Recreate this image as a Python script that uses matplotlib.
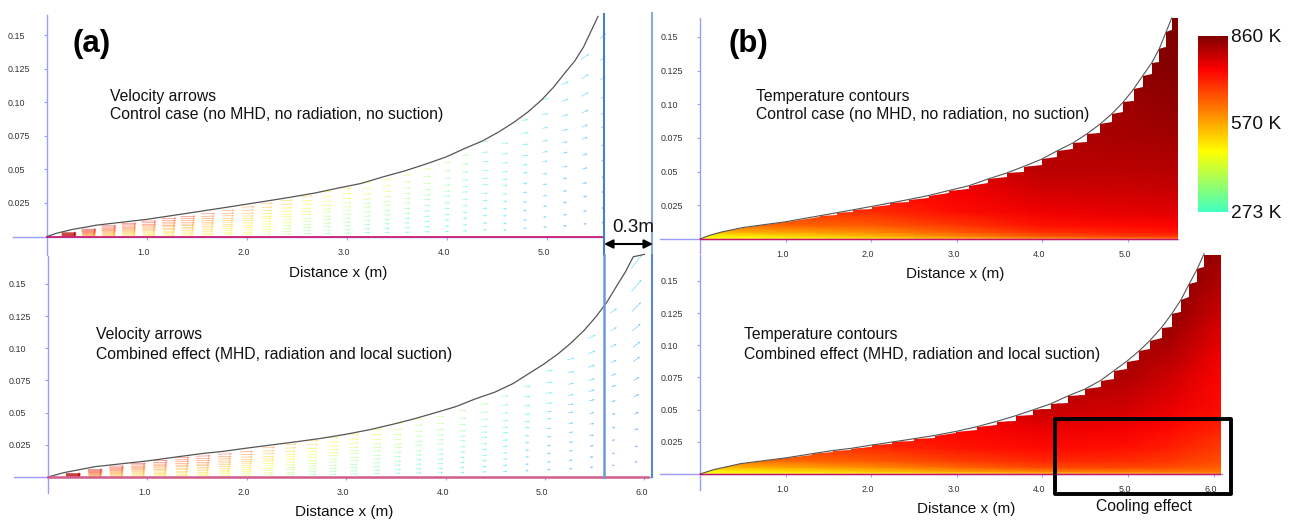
import numpy as np
import matplotlib
matplotlib.use('Agg')
import matplotlib.pyplot as plt
from matplotlib.colors import LinearSegmentedColormap
from matplotlib.patches import Polygon, Rectangle
from matplotlib.cm import ScalarMappable
from matplotlib.colors import Normalize
from matplotlib.transforms import ScaledTranslation

plt.rcParams['font.family'] = ['Liberation Sans', 'DejaVu Sans']

W, H = 1292, 521

# wall curves, x (m) and height (m)
control_x = [0, .1, .25, .5, 1, 1.402, 1.597, 1.791, 2.005, 2.22, 2.445, 2.679, 2.912, 3.139, 3.364, 3.583,
             3.789, 3.992, 4.174, 4.354, 4.517, 4.673, 4.813, 4.945, 5.066, 5.175, 5.276, 5.366, 5.444, 5.51]
control_y = [0, .0025, .0052, .0085, .0128, .0173, .0195, .0217, .0242, .0267, .0294, .0324, .0361, .0395, .0445,
             .049, .054, .0593, .0655, .0712, .0779, .0853, .093, .1017, .1113, .1215, .1306, .1413, .1536, .164]
combined_x = [0, .155, .47, 1, 1.304, 1.557, 1.76, 2.005, 2.238, 2.499, 2.744, 2.991, 3.232, 3.466, 3.688, 3.894,
              4.1, 4.303, 4.498, 4.681, 4.84, 4.984, 5.133, 5.257, 5.393, 5.51, 5.619, 5.716, 5.81, 5.888, 6.0]
combined_y = [0, .0033, .008, .0125, .0157, .0183, .0199, .0225, .0248, .0274, .03, .0331, .0367, .0409, .0453, .0499,
              .0546, .0608, .066, .0727, .0805, .0875, .0958, .1038, .1139, .1243, .1354, .1478, .1595, .1711, .173]

y_ticks = [.025, .05, .075, .10, .125, .15]
y_tick_labels = ['0.025', '0.05', '0.075', '0.10', '0.125', '0.15']

# mesh rows as a share of the local height
row_fracs = [1, .889, .79, .695, .615, .547, .456, .379, .297, .222, .142, .07]

# arrows, control case
ctl_col_x = [.22, .42, .62, .82, 1.02, 1.22, 1.41, 1.61, 1.81, 2.01, 2.2, 2.4, 2.6, 2.8, 3.0, 3.2,
             3.4, 3.6, 3.8, 4.0, 4.18, 4.38, 4.58, 4.78, 4.98, 5.18, 5.38, 5.56]
ctl_col_top = [.003, .0055, .008, .0098, .0115, .0135, .015, .017, .0195, .022, .0245, .027, .03, .0333,
               .0359, .0401, .0425, .0458, .0503, .055, .0607, .0706, .0694, .0868, .1025, .1142, .134, .1494]
ctl_lvl_top = [1.0, .98, .96, .95, .95, .94, .93, .9, .87, .83, .79, .76, .73, .71, .69, .67,
               .65, .62, .6, .56, .52, .46, .42, .36, .32, .28, .25, .22]
ctl_lvl_low = [.98, .8, .76, .72, .7, .69, .68, .67, .65, .62, .58, .54, .48, .45, .43, .41,
               .39, .37, .35, .33, .31, .29, .26, .22, .19, .14, .1, .06]
ctl_len_top = [15, 15, 15, 15, 15, 15, 15, 14, 13, 13, 12, 12, 11, 10, 10, 9,
               9, 8, 8, 8, 7, 7, 7, 7, 7, 7, 8, 6]
ctl_len_low = [14, 13, 13, 13, 12, 11, 11, 10, 9, 9, 8, 8, 7, 7, 6, 6,
               5, 5, 5, 4, 4, 4, 3, 3, 3, 3, 3, 2]
ctl_slope = [0, 0, 0, 0, 0, .02, .02, .03, .03, .03, .04, .04, .05, .05, .05, .06,
             .06, .07, .07, .08, .08, .1, .12, .16, .22, .4, .7, .9]

# arrows, combined effect
cmb_col_x = [.255, .475, .69, .91, 1.13, 1.35, 1.56, 1.78, 2.0, 2.22, 2.44, 2.66, 2.87, 3.08, 3.31,
             3.52, 3.73, 3.95, 4.17, 4.39, 4.6, 4.82, 5.04, 5.26, 5.47, 5.69, 5.92]
cmb_col_top = [.0028, .006, .0085, .0106, .0127, .015, .0163, .0179, .0197, .0228, .0254, .0282, .0306,
               .0332, .037, .0417, .0451, .0469, .0515, .0567, .0629, .0702, .0826, .0917, .109, .1292, .1673]
cmb_lvl_top = [1.0, .98, .96, .95, .95, .94, .93, .9, .87, .83, .79, .76, .73, .7, .68,
               .65, .62, .58, .54, .5, .44, .38, .33, .3, .27, .25, .22]
cmb_lvl_low = [.98, .8, .76, .72, .7, .69, .68, .66, .62, .58, .52, .48, .45, .42, .4,
               .38, .36, .34, .32, .29, .26, .22, .18, .13, .09, .05, .03]
cmb_len_top = [15, 15, 15, 15, 15, 15, 15, 14, 13, 13, 12, 12, 11, 10, 10,
               9, 8, 8, 8, 8, 7, 7, 7, 7, 8, 7, 11]
cmb_len_low = [14, 13, 13, 13, 12, 11, 11, 10, 9, 9, 8, 8, 7, 7, 6,
               6, 5, 5, 4, 4, 4, 3, 3, 3, 3, 2, 2]
cmb_slope = [0, 0, 0, 0, 0, .02, .02, .03, .03, .03, .04, .04, .05, .05, .05,
             .06, .06, .07, .07, .08, .1, .12, .16, .25, .45, .7, 1.3]

# temperature tables (K), rows follow t_y, columns follow the x list
t_y = [0, .002, .005, .01, .02, .035, .05, .075, .1, .125, .15, .175]
ctl_t_x = [0, .5, 1, 2, 3, 4, 5, 5.6]
ctl_temp = [[470, 475, 480, 500, 540, 580, 600, 610],
            [480, 490, 510, 550, 600, 650, 680, 690],
            [540, 560, 570, 600, 650, 695, 715, 725],
            [620, 630, 640, 650, 690, 730, 740, 745],
            [690, 690, 690, 700, 735, 760, 770, 775],
            [720, 725, 730, 740, 755, 785, 790, 795],
            [740, 745, 750, 760, 775, 805, 805, 810],
            [770, 775, 780, 790, 800, 815, 825, 830],
            [790, 795, 800, 805, 815, 825, 832, 845],
            [810, 815, 820, 825, 830, 840, 845, 855],
            [825, 830, 835, 840, 845, 850, 855, 860],
            [840, 845, 850, 855, 860, 860, 860, 860]]
cmb_t_x = [0, .5, 1, 2, 3, 4, 5, 5.5, 6.1]
cmb_temp = [[470, 475, 480, 490, 510, 540, 560, 570, 590],
            [480, 490, 505, 540, 580, 610, 620, 625, 625],
            [540, 555, 565, 595, 635, 670, 670, 665, 645],
            [620, 625, 635, 650, 680, 705, 700, 690, 665],
            [680, 685, 690, 700, 725, 740, 730, 715, 685],
            [715, 720, 725, 735, 745, 765, 755, 740, 710],
            [735, 740, 745, 755, 770, 800, 785, 765, 735],
            [760, 765, 770, 780, 795, 815, 815, 790, 745],
            [780, 785, 790, 800, 810, 825, 830, 820, 765],
            [800, 805, 810, 815, 820, 835, 840, 845, 790],
            [820, 825, 830, 835, 840, 850, 850, 855, 815],
            [840, 845, 850, 855, 860, 860, 860, 860, 835]]

# upper edge of the filled cells (stair steps under the curve)
ctl_edge_x = [0, .1, .25, .5, 1, 1.402, 1.402, 1.597, 1.597, 1.791, 1.791, 2.005, 2.005, 2.22, 2.22,
              2.445, 2.445, 2.679, 2.679, 2.912, 2.912, 3.139, 3.139, 3.364, 3.364, 3.583, 3.583, 3.789, 3.789,
              3.992, 3.992, 4.174, 4.174, 4.354, 4.354, 4.517, 4.517, 4.673, 4.673, 4.813, 4.813, 4.945, 4.945,
              5.066, 5.066, 5.175, 5.175, 5.276, 5.276, 5.366, 5.366, 5.444, 5.444, 5.51, 5.51, 5.584]
ctl_edge_y = [0, .0025, .0052, .0085, .0128, .0161, .0171, .0181, .0193, .0203, .0215, .0225, .024, .025, .0265,
              .0277, .0292, .0304, .0322, .0339, .0359, .0369, .0393, .0418, .0443, .0458, .0488, .05, .0537,
              .0549, .0591, .0606, .0653, .0666, .071, .0723, .0777, .0789, .0851, .0866, .0928, .0945, .1015,
              .1027, .1111, .1126, .1213, .1225, .1304, .1317, .1411, .1428, .1534, .1552, .1638, .1638]
cmb_edge_x = [0, .155, .47, 1, 1.304, 1.304, 1.557, 1.557, 1.76, 1.76, 2.005, 2.005, 2.238, 2.238, 2.499, 2.499,
              2.744, 2.744, 2.991, 2.991, 3.232, 3.232, 3.466, 3.466, 3.688, 3.688, 3.894, 3.894, 4.1, 4.1,
              4.303, 4.303, 4.498, 4.498, 4.681, 4.681, 4.84, 4.84, 4.984, 4.984, 5.133, 5.133, 5.257, 5.257,
              5.393, 5.393, 5.51, 5.51, 5.619, 5.619, 5.716, 5.716, 5.81, 5.81, 5.888, 5.888, 6.083]
cmb_edge_y = [0, .0033, .008, .0122, .0145, .0155, .0171, .0181, .0186, .0197, .021, .0223, .0231, .0246, .0256, .0272,
              .028, .0298, .0316, .0329, .0342, .0365, .0378, .0407, .0414, .0451, .0458, .0497, .0505, .0544,
              .0554, .0606, .0614, .0658, .0673, .0725, .0738, .0803, .0816, .0873, .0886, .0956, .0969, .1036,
              .1054, .1137, .1145, .1241, .1261, .1352, .1378, .1476, .1494, .1593, .1606, .1709, .1709]

temp_cmap = LinearSegmentedColormap.from_list(
    'temp', [(0, '#40ffc0'), (.343, '#ffff00'), (.81, '#ff0000'), (1, '#7f0000')])
speed_cmap = LinearSegmentedColormap.from_list(
    'speed', [(0, '#2050ff'), (.2, '#00b0ff'), (.32, '#00f0f0'), (.45, '#50ffa0'), (.6, '#c0ff40'),
              (.68, '#ffff00'), (.8, '#ffa000'), (.93, '#ff2000'), (1, '#b00000')])

fig = plt.figure(figsize=(W / 100, H / 100), dpi=100)
AXIS_BLUE = '#9c9cff'


def add_panel(rect, x0, xs, y0, ys, x_ticks):
    # rect is left, right, top, bottom of the axis lines in pixels
    left, right, top, bottom = rect
    ax = fig.add_axes([left / W, 1 - bottom / H, (right - left) / W, (bottom - top) / H])
    ax.set_xlim((left - x0) / xs, (right - x0) / xs)
    ax.set_ylim((y0 - bottom) / ys, (y0 - top) / ys)
    ax.patch.set_visible(False)
    for s in ['top', 'right']:
        ax.spines[s].set_visible(False)
    for s in ['left', 'bottom']:
        ax.spines[s].set_position('zero')
        ax.spines[s].set_color(AXIS_BLUE)
        ax.spines[s].set_linewidth(1.0)
    ax.set_xticks(x_ticks)
    ax.set_xticklabels(['%.1f' % t for t in x_ticks])
    ax.set_yticks(y_ticks)
    ax.set_yticklabels(y_tick_labels)
    ax.tick_params(axis='x', colors=AXIS_BLUE, labelcolor='#333333', labelsize=6.4, length=2.5, pad=5.5)
    ax.tick_params(axis='y', colors=AXIS_BLUE, labelcolor='#333333', labelsize=6.4, length=2.5, pad=25.5)
    shift = ScaledTranslation(-3 / 100, 0, fig.dpi_scale_trans)
    for lab in ax.get_xticklabels():
        lab.set_transform(lab.get_transform() + shift)
    for lab in ax.get_yticklabels():
        lab.set_ha('left')
    return ax


def draw_arrows(ax, col_x, col_top, lvl_top, lvl_low, len_top, len_low, slope):
    xs, ys, us, vs, cs = [], [], [], [], []
    for i in range(len(col_x)):
        for frac in row_fracs:
            length = len_low[i] + (len_top[i] - len_low[i]) * frac
            xs.append(col_x[i])
            ys.append(col_top[i] * frac)
            us.append(length)
            vs.append(length * slope[i] * frac)
            cs.append(lvl_low[i] + (lvl_top[i] - lvl_low[i]) * frac)
    ax.quiver(xs, ys, us, vs, cs, cmap=speed_cmap, norm=Normalize(0, 1), angles='uv', scale_units='dots',
              scale=1, units='dots', width=.6, headwidth=3.5, headlength=4, headaxislength=3.5,
              pivot='mid', alpha=.6, clip_on=False, zorder=2)


def draw_field(ax, t_x, temp, edge_x, edge_y):
    mesh = ax.pcolormesh(t_x, t_y, temp, shading='gouraud', cmap=temp_cmap, vmin=273, vmax=860, zorder=2)
    pts = list(zip(edge_x, edge_y)) + [(edge_x[-1], 0)]
    clip = Polygon(pts, closed=True, transform=ax.transData)
    mesh.set_clip_path(clip)


# (a) control case
ax1 = add_panel((13, 604, 15, 255), 47, 100, 236.5, 1342, [1, 2, 3, 4, 5])
draw_arrows(ax1, ctl_col_x, ctl_col_top, ctl_lvl_top, ctl_lvl_low, ctl_len_top, ctl_len_low, ctl_slope)
ax1.plot(control_x, control_y, color='#555555', lw=.9, zorder=3, clip_on=False)
ax1.plot([0, 5.57], [0, 0], color='#cc1166', lw=1.2, zorder=3)

# (a) combined effect
ax2 = add_panel((14, 652, 256, 493), 48, 99.4, 477, 1287, [1, 2, 3, 4, 5, 6])
draw_arrows(ax2, cmb_col_x, cmb_col_top, cmb_lvl_top, cmb_lvl_low, cmb_len_top, cmb_len_low, cmb_slope)
ax2.plot(combined_x, combined_y, color='#555555', lw=.9, zorder=3, clip_on=False)
ax2.plot([0, 6.04], [0, 0], color='#d4608a', lw=1.8, zorder=3)

# (b) control case
ax3 = add_panel((660, 1178, 18, 253), 700, 85.6, 239, 1347, [1, 2, 3, 4, 5])
draw_field(ax3, ctl_t_x, ctl_temp, ctl_edge_x, ctl_edge_y)
ax3.plot(control_x, control_y, color='#555555', lw=.8, zorder=3, clip_on=False)
ax3.plot([0, 5.58], [0, 0], color='#cc1166', lw=1, zorder=3)

# (b) combined effect
ax4 = add_panel((660, 1222, 255, 490), 700, 85.6, 474, 1287, [1, 2, 3, 4, 5, 6])
draw_field(ax4, cmb_t_x, cmb_temp, cmb_edge_x, cmb_edge_y)
ax4.plot(combined_x[:-1], combined_y[:-1], color='#555555', lw=.8, zorder=3, clip_on=False)
ax4.plot([0, 6.08], [0, 0], color='#cc1166', lw=1, zorder=3)

# colour bar
cax = fig.add_axes([1198 / W, 1 - 212 / H, 30 / W, 176 / H])
cb = fig.colorbar(ScalarMappable(Normalize(273, 860), temp_cmap), cax=cax)
cb.set_ticks([273, 570, 860])
cb.set_ticklabels(['273 K', '570 K', '860 K'])
cb.outline.set_visible(False)
cax.tick_params(length=0, labelsize=13.8, pad=2.5, colors='#111111')

# annotations, in pixel coordinates of the whole picture
over = fig.add_axes([0, 0, 1, 1], zorder=10)
over.set_xlim(0, W)
over.set_ylim(H, 0)
over.axis('off')

over.plot([604, 604], [14, 255], color='#4a7fc0', lw=1.5)
over.plot([604, 604], [255, 477], color='#6f9ad0', lw=1.8)
over.plot([652, 652], [13, 255], color='#8aa8d8', lw=1.5)
over.plot([651.5, 651.5], [255, 477], color='#5a88c4', lw=1.5)
over.annotate('', xy=(604, 244), xytext=(653, 244),
              arrowprops=dict(arrowstyle='<|-|>', color='black', lw=1.5, mutation_scale=13,
                              shrinkA=0, shrinkB=0))
over.add_patch(Rectangle((1055, 419), 176, 75, fill=False, ec='black', lw=2.8, joinstyle='round'))

LABEL = '#111111'
TEXT_SIZE = 11.3
over.text(73, 44, '(a)', fontsize=22.5, fontweight='bold', va='center', color='black')
over.text(729, 44, '(b)', fontsize=22.5, fontweight='bold', va='center', color='black')
over.text(110, 96, 'Velocity arrows', fontsize=TEXT_SIZE, va='center', color=LABEL)
over.text(110, 115, 'Control case (no MHD, no radiation, no suction)', fontsize=TEXT_SIZE, va='center', color=LABEL)
over.text(96, 335, 'Velocity arrows', fontsize=TEXT_SIZE, va='center', color=LABEL)
over.text(96, 354, 'Combined effect (MHD, radiation and local suction)', fontsize=TEXT_SIZE, va='center', color=LABEL)
over.text(756, 96, 'Temperature contours', fontsize=TEXT_SIZE, va='center', color=LABEL)
over.text(756, 115, 'Control case (no MHD, no radiation, no suction)', fontsize=TEXT_SIZE, va='center', color=LABEL)
over.text(744, 335, 'Temperature contours', fontsize=TEXT_SIZE, va='center', color=LABEL)
over.text(744, 354, 'Combined effect (MHD, radiation and local suction)', fontsize=TEXT_SIZE, va='center', color=LABEL)
over.text(289, 273, 'Distance x (m)', fontsize=11, va='center', color=LABEL)
over.text(295, 512, 'Distance x (m)', fontsize=11, va='center', color=LABEL)
over.text(906, 274, 'Distance x (m)', fontsize=11, va='center', color=LABEL)
over.text(917, 509, 'Distance x (m)', fontsize=11, va='center', color=LABEL)
over.text(1096, 507, 'Cooling effect', fontsize=11.3, va='center', color=LABEL)
over.text(612, 227, '0.3m', fontsize=13.6, va='center', color=LABEL)

fig.savefig('out.png', dpi=100)
